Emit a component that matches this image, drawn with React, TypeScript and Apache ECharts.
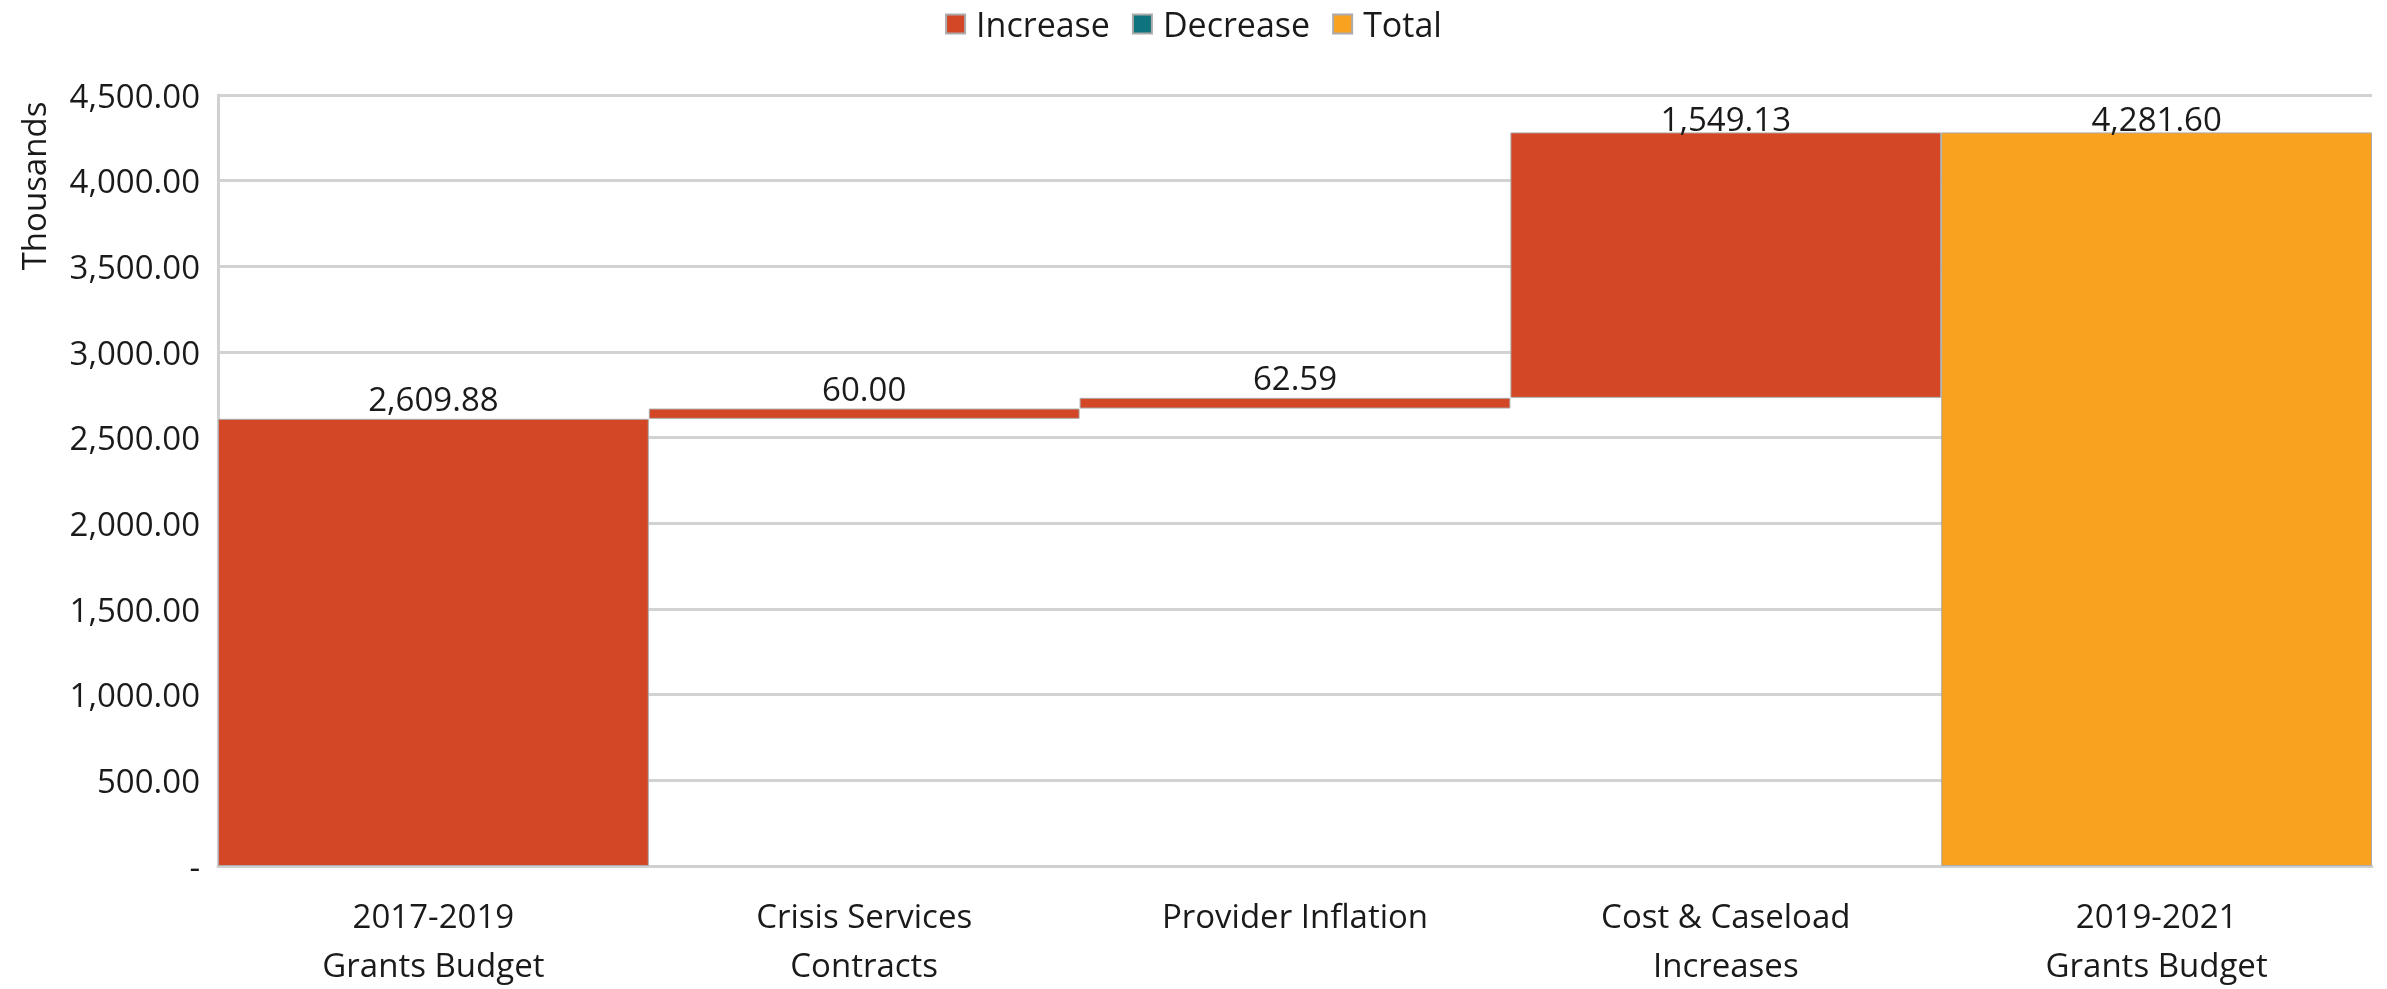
import React, { useEffect, useRef } from "react";
import * as echarts from "echarts";

const categories = [
  "2017-2019\nGrants Budget",
  "Crisis Services\nContracts",
  "Provider Inflation",
  "Cost & Caseload\nIncreases",
  "2019-2021\nGrants Budget",
];
// invisible waterfall base (running total before each step)
const baseValues = [0, 2609.88, 2669.88, 2732.47, 0];
const increaseValues: (number | string)[] = [2609.88, 60.0, 62.59, 1549.13, "-"];
const decreaseValues: (number | string)[] = ["-", "-", "-", "-", "-"];
const totalValues: (number | string)[] = ["-", "-", "-", "-", 4281.6];
const yTicks = { min: 0, max: 4500, interval: 500 };

const FONT = "'Open Sans', 'Noto Sans', sans-serif";
const TEXT = "#1a1a1a";
const fmt = (v: number) =>
  v.toLocaleString("en-US", { minimumFractionDigits: 2, maximumFractionDigits: 2 });

export default function App() {
  const ref = useRef<HTMLDivElement>(null);
  useEffect(() => {
    document.body.style.margin = "0";
    const chart = echarts.init(ref.current!, null, { renderer: "svg" });
    const labelStyle = {
      show: true,
      position: "top",
      distance: 4,
      fontFamily: FONT,
      fontSize: 33,
      color: TEXT,
      formatter: (p: any) => fmt(p.value),
    };
    const incData = increaseValues.map((v, i) =>
      i === 3 && typeof v === "number" ? { value: v, label: { offset: [0, 7] } } : v
    );
    const totData = totalValues.map((v, i) =>
      i === 4 && typeof v === "number" ? { value: v, label: { offset: [0, 7] } } : v
    );
    const border = { borderColor: "#ababab", borderWidth: 1 };
    chart.setOption({
      animation: false,
      textStyle: { fontFamily: FONT },
      legend: {
        data: ["Increase", "Decrease", "Total"],
        top: 2,
        left: "center",
        itemWidth: 19,
        itemHeight: 19,
        itemGap: 22,
        icon: "rect",
        textStyle: { fontFamily: FONT, fontSize: 34, color: TEXT, padding: [0, 0, 0, 6] },
        selectedMode: false,
      },
      grid: { left: 218, right: 15, top: 95, bottom: 117, containLabel: false },
      xAxis: {
        type: "category",
        data: categories,
        axisLine: { show: true, lineStyle: { color: "#d0d0d0", width: 3 } },
        axisTick: { show: false },
        axisLabel: {
          fontFamily: FONT,
          fontSize: 33,
          color: TEXT,
          lineHeight: 49,
          margin: 25,
          interval: 0,
        },
      },
      yAxis: {
        type: "value",
        min: yTicks.min,
        max: yTicks.max,
        interval: yTicks.interval,
        axisLine: { show: true, lineStyle: { color: "#d0d0d0", width: 3 } },
        axisTick: { show: false },
        splitLine: { show: true, lineStyle: { color: "#d2d2d2", width: 3 } },
        axisLabel: {
          fontFamily: FONT,
          fontSize: 33,
          color: TEXT,
          margin: 18,
          formatter: (v: number) => (v === 0 ? "-" : fmt(v)),
        },
      },
      graphic: [
        {
          type: "text",
          x: 33,
          y: 186,
          rotation: Math.PI / 2,
          style: {
            text: "Thousands",
            fontFamily: FONT,
            fontSize: 33,
            fill: TEXT,
            textAlign: "center",
            textVerticalAlign: "middle",
          },
        },
      ],
      series: [
        {
          name: "base",
          type: "bar",
          stack: "w",
          data: baseValues,
          barCategoryGap: "0%",
          itemStyle: { color: "transparent", borderWidth: 0 },
          emphasis: { disabled: true },
          silent: true,
        },
        {
          name: "Increase",
          type: "bar",
          stack: "w",
          data: incData,
          barCategoryGap: "0%",
          itemStyle: { color: "#D34726", ...border },
          label: labelStyle,
          emphasis: { disabled: true },
        },
        {
          name: "Decrease",
          type: "bar",
          stack: "w",
          data: decreaseValues,
          barCategoryGap: "0%",
          itemStyle: { color: "#0F737D", ...border },
          emphasis: { disabled: true },
        },
        {
          name: "Total",
          type: "bar",
          stack: "w",
          data: totData,
          barCategoryGap: "0%",
          itemStyle: { color: "#F8A21F", ...border },
          label: labelStyle,
          emphasis: { disabled: true },
        },
      ],
    });
    return () => chart.dispose();
  }, []);
  return (
    <div
      ref={ref}
      style={{ position: "fixed", left: 0, top: 0, width: "2387px", height: "989px" }}
    />
  );
}
